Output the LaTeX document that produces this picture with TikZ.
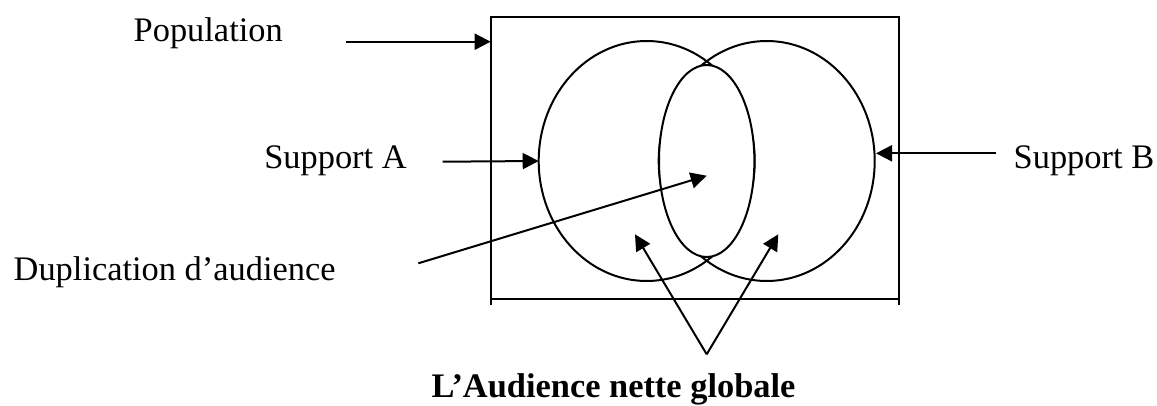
\documentclass[tikz,border=0pt]{standalone}
\usepackage{fontspec}
\setmainfont{Liberation Serif}
\usetikzlibrary{arrows.meta,shapes.geometric}
\begin{document}
\begin{tikzpicture}[x=1pt,y=-1pt,
  line width=2pt,
  lbl/.style={anchor=base west,inner sep=0pt,font=\fontsize{34.4}{40}\selectfont},
  arr/.style={-{Triangle[length=16pt,width=16pt]},line width=2pt},
  ln/.style={line width=2pt},
  circ/.style={draw,ellipse,inner sep=0pt,outer sep=0pt,line width=2pt}]
\useasboundingbox (0,0) rectangle (1157,405);
% frame
\draw[ln] (490.7,305) -- (490.7,16.7) -- (899,16.7) -- (899,305);
\draw[ln] (490.7,299) -- (899,299);
% circles
\node[circ,minimum width=216pt,minimum height=240pt] (ca) at (646.7,161) {};
\node[circ,minimum width=216pt,minimum height=240pt] (cb) at (766.7,161) {};
\node[circ,fill=white,minimum width=95.4pt,minimum height=192pt] (dup) at (706.7,161) {};
% labels
\node[lbl] (pop) at (132.7,41) {Population};
\node[lbl] (sa) at (263.3,168) {Support A};
\node[lbl] (sb) at (1012.7,168) {Support B};
\node[lbl] (dl) at (12.7,280) {Duplication d’audience};
\node[lbl,font=\fontsize{34.4}{40}\selectfont\bfseries] (an) at (430.7,397) {L’Audience nette globale};
% arrow coordinates
\coordinate (p0) at (346,41.7);
\coordinate (p1) at (490.7,41.7);
\coordinate (a0) at (442.7,161.7);
\coordinate (a1) at (ca.west);
\coordinate (b0) at (996,153.3);
\coordinate (b1) at (876,153.3);
\coordinate (d0) at (418.3,263.3);
\coordinate (d1) at (706.7,175.7);
\coordinate (apex) at (706.7,354.3);
\coordinate (t1) at (635,234.3);
\coordinate (t2) at (778.3,234.3);
\draw[arr] (p0) -- (p1);
\draw[arr] (a0) -- (a1);
\draw[arr] (b0) -- (b1);
\draw[arr] (d0) -- (d1);
\draw[arr] (apex) -- (t1);
\draw[arr] (apex) -- (t2);
\end{tikzpicture}
\end{document}
